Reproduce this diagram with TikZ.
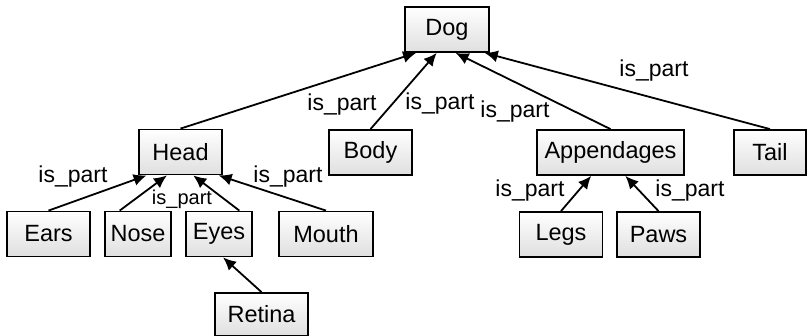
\documentclass[tikz,border=0pt]{standalone}
\usepackage{fontspec}
\setmainfont{Liberation Sans}
\usetikzlibrary{arrows.meta,calc}

\tikzset{
  partbox/.style={draw, line width=1.8pt, rectangle, inner sep=0pt,
    top color=white, bottom color=gray!25, minimum height=45pt,
    font=\fontsize{23.5}{27}\selectfont},
  ispart/.style={line width=1.8pt, -{Latex[length=13pt,width=12pt]}},
  rel/.style={inner sep=0pt, font=\fontsize{23}{27}\selectfont},
}

\begin{document}
\begin{tikzpicture}[x=1pt,y=-1pt]
\useasboundingbox (0,0) rectangle (809,336);

% Draw the parts
\node[partbox, minimum width=84pt] (dog) at (447,29.5) {Dog};
\node[partbox, minimum width=83pt] (head) at (180.5,152) {Head};
\node[partbox, minimum width=83pt] (body) at (370.5,152.5) {Body};
\node[partbox, minimum width=147pt] (appendages) at (610.5,152.5) {Appendages};
\node[partbox, minimum width=72pt] (tail) at (770,152.5) {Tail};
\node[partbox, minimum width=83pt] (ears) at (48.5,234) {Ears};
\node[partbox, minimum width=66pt] (nose) at (138,234) {Nose};
\node[partbox, minimum width=66pt] (eyes) at (219,234) {Eyes};
\node[partbox, minimum width=94pt] (mouth) at (326,234) {Mouth};
\node[partbox, minimum width=93pt, minimum height=43pt] (retina) at (261.5,314.5) {Retina};
\node[partbox, minimum width=83pt] (legs) at (561,234.5) {Legs};
\node[partbox, minimum width=83pt] (paws) at (658.5,234.5) {Paws};

% Arrows into the whole
\draw[ispart] (head.north) -- ($(dog.south west)!0.14!(dog.south east)$);
\draw[ispart] (body.north) -- ($(dog.south west)!0.38!(dog.south east)$);
\draw[ispart] (appendages.north) -- ($(dog.south west)!0.6!(dog.south east)$);
\draw[ispart] (tail.north) -- ($(dog.south west)!0.94!(dog.south east)$);

\draw[ispart] (ears.north) -- ($(head.south west)!0.1!(head.south east)$);
\draw[ispart] ($(nose.north west)!0.23!(nose.north east)$) -- ($(head.south west)!0.34!(head.south east)$);
\draw[ispart] ($(eyes.north west)!0.8!(eyes.north east)$) -- ($(head.south west)!0.65!(head.south east)$);
\draw[ispart] (mouth.north) -- ($(head.south west)!0.95!(head.south east)$);
\draw[ispart] (retina.north) -- ($(eyes.south west)!0.56!(eyes.south east)$);

\draw[ispart] (legs.north) -- ($(appendages.south west)!0.37!(appendages.south east)$);
\draw[ispart] (paws.north) -- ($(appendages.south west)!0.6!(appendages.south east)$);

% Labels
\node[rel] (l-head) at (342,105) {is\_part};
\node[rel] (l-body) at (440,104) {is\_part};
\node[rel] (l-app) at (515,112) {is\_part};
\node[rel] (l-tail) at (654,71) {is\_part};
\node[rel] (l-ears) at (73,177) {is\_part};
\node[rel, font=\fontsize{20}{24}\selectfont] (l-nose) at (182,199) {is\_part};
\node[rel] (l-mouth) at (288,177) {is\_part};
\node[rel] (l-legs) at (530,191) {is\_part};
\node[rel] (l-paws) at (690,191) {is\_part};
\end{tikzpicture}
\end{document}
